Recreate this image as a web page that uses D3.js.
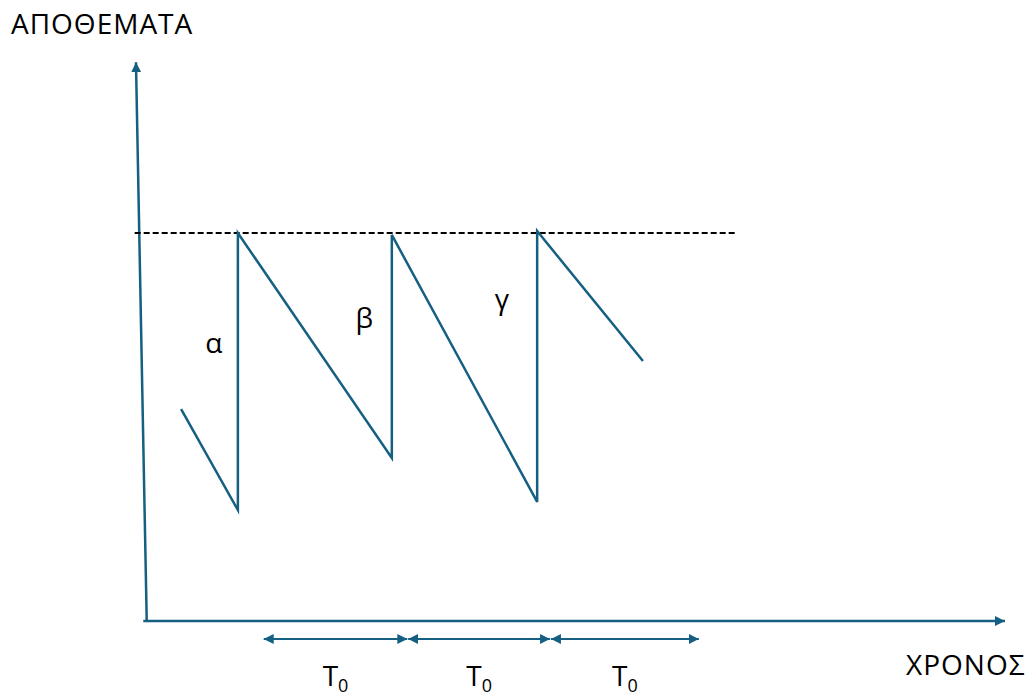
<!DOCTYPE html>
<html>
<head>
<meta charset="utf-8">
<script src="https://cdn.jsdelivr.net/npm/d3@7"></script>
<style>
  body { margin: 0; background: #fff; }
  text { font-family: "Open Sans", "Noto Sans", sans-serif; fill: #000; }
</style>
</head>
<body>
<svg id="chart" width="1031" height="700"></svg>
<script>
// stock level over time (time units, stock units: 100 = max level)
const sawTime  = [0.42, 1.08, 1.08, 2.87, 2.87, 4.56, 4.56, 5.79];
const sawStock = [54.6, 28.6, 100, 42, 99.5, 30.7, 100.5, 67];

const orderLabels = ["α", "β", "γ"];
const labelTime   = [0.80, 2.55, 4.15];
const labelStock  = [69, 75.5, 80.5];

// reorder cycles, each of length T0
const cycleStart = [1.38, 3.06, 4.72];
const cycleEnd   = [3.05, 4.71, 6.44];
const cycleLabel = "T";

const maxLevel = 100;

const color = "#156082";
const svg = d3.select("#chart");

const x = d3.scaleLinear().domain([0, 10]).range([145, 1005]);
const y = d3.scaleLinear().domain([0, 100]).range([621, 233]);

const defs = svg.append("defs");
function marker(id, orient) {
  defs.append("marker")
      .attr("id", id)
      .attr("viewBox", "0 0 10 10")
      .attr("refX", 10).attr("refY", 5)
      .attr("markerUnits", "userSpaceOnUse")
      .attr("markerWidth", 10).attr("markerHeight", 10)
      .attr("orient", orient)
    .append("path")
      .attr("d", "M0,0L10,5L0,10z")
      .attr("fill", color);
}
marker("head", "auto");
marker("headStart", "auto-start-reverse");

// axes
svg.append("line")
    .attr("x1", x(0.02)).attr("y1", y(0))
    .attr("x2", x(-0.105)).attr("y2", y(144))
    .attr("stroke", color).attr("stroke-width", 2.5)
    .attr("marker-end", "url(#head)");

svg.append("line")
    .attr("x1", x(-0.02)).attr("y1", y(0))
    .attr("x2", x(10)).attr("y2", y(0))
    .attr("stroke", color).attr("stroke-width", 2.5)
    .attr("marker-end", "url(#head)");

// max level
svg.append("line")
    .attr("x1", x(-0.12)).attr("y1", y(maxLevel))
    .attr("x2", x(6.88)).attr("y2", y(maxLevel))
    .attr("stroke", "#000").attr("stroke-width", 2)
    .attr("stroke-dasharray", "6,3");

// sawtooth
const line = d3.line()
    .x(i => x(sawTime[i]))
    .y(i => y(sawStock[i]));

svg.append("path")
    .datum(d3.range(sawTime.length))
    .attr("d", line)
    .attr("fill", "none")
    .attr("stroke", color)
    .attr("stroke-width", 2.5);

svg.selectAll("text.order")
    .data(orderLabels)
  .enter().append("text")
    .attr("class", "order")
    .attr("x", (d, i) => x(labelTime[i]))
    .attr("y", (d, i) => y(labelStock[i]))
    .attr("text-anchor", "middle")
    .attr("font-size", 28)
    .text(d => d);

// T0 arrows
svg.selectAll("line.cycle")
    .data(cycleStart)
  .enter().append("line")
    .attr("class", "cycle")
    .attr("x1", d => x(d))
    .attr("x2", (d, i) => x(cycleEnd[i]))
    .attr("y1", 639).attr("y2", 639)
    .attr("stroke", color).attr("stroke-width", 2)
    .attr("marker-start", "url(#headStart)")
    .attr("marker-end", "url(#head)");

const t0 = svg.selectAll("text.cycle")
    .data(cycleStart)
  .enter().append("text")
    .attr("class", "cycle")
    .attr("x", (d, i) => x((d + cycleEnd[i]) / 2))
    .attr("y", 686)
    .attr("text-anchor", "middle")
    .attr("font-size", 28);
t0.append("tspan").text(cycleLabel);
t0.append("tspan").attr("font-size", 18).attr("dy", 6).text("0");

svg.append("text")
    .attr("x", 11).attr("y", 34)
    .attr("font-size", 28)
    .attr("letter-spacing", 1)
    .text("ΑΠΟΘΕΜΑΤΑ");

svg.append("text")
    .attr("x", 906).attr("y", 675)
    .attr("font-size", 28)
    .attr("letter-spacing", 1)
    .text("ΧΡΟΝΟΣ");
</script>
</body>
</html>
